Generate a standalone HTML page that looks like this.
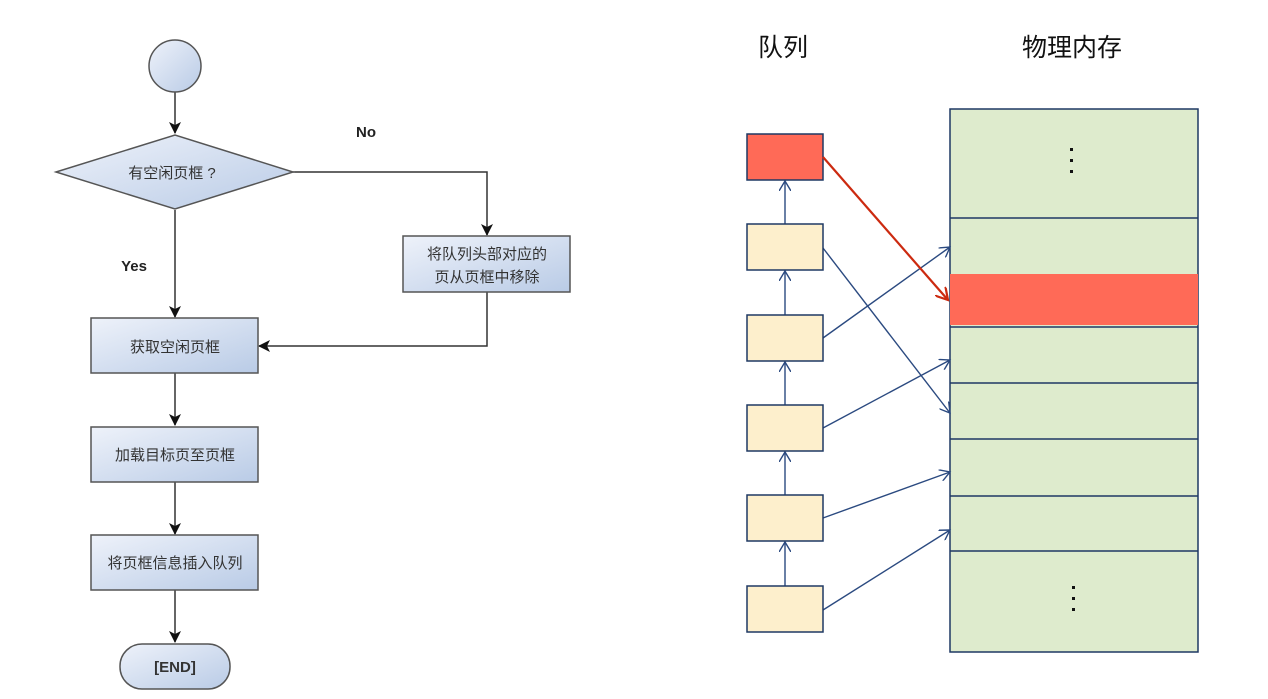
<!DOCTYPE html>
<html><head><meta charset="utf-8"><style>
html,body{margin:0;padding:0;background:#fff;}
svg{display:block;}
text{font-family:"Liberation Sans","Noto Sans CJK SC",sans-serif;}
</style></head><body>
<svg width="1268" height="699" viewBox="0 0 1268 699" xmlns="http://www.w3.org/2000/svg">
<defs>
<linearGradient id="g" x1="0" y1="0" x2="1" y2="1">
<stop offset="0" stop-color="#eef2fa"/><stop offset="1" stop-color="#b9cbe6"/></linearGradient>
<marker id="ab" markerWidth="12" markerHeight="12" refX="11" refY="6" orient="auto" markerUnits="userSpaceOnUse">
<path d="M0,0 L12,6 L0,12 L3,6 Z" fill="#111"/></marker>
<marker id="ao" markerWidth="12" markerHeight="12" refX="10" refY="6" orient="auto" markerUnits="userSpaceOnUse">
<path d="M0,0 L10,6 L0,12" fill="none" stroke="#2b4a80" stroke-width="1.4"/></marker>
<marker id="ar" markerWidth="14" markerHeight="14" refX="12" refY="7" orient="auto" markerUnits="userSpaceOnUse">
<path d="M0,0 L12,7 L0,14" fill="none" stroke="#cc2a10" stroke-width="2.2"/></marker>
</defs>
<g stroke="#333" stroke-width="1.5" fill="none">
<line x1="175" y1="92" x2="175" y2="133" marker-end="url(#ab)"/>
<line x1="175" y1="210" x2="175" y2="317" marker-end="url(#ab)"/>
<polyline points="293,172 487,172 487,235" marker-end="url(#ab)"/>
<polyline points="487,292 487,346 259,346" marker-end="url(#ab)"/>
<line x1="175" y1="373" x2="175" y2="425" marker-end="url(#ab)"/>
<line x1="175" y1="482" x2="175" y2="534" marker-end="url(#ab)"/>
<line x1="175" y1="590" x2="175" y2="642" marker-end="url(#ab)"/>
</g>
<g stroke="#555" stroke-width="1.5" fill="url(#g)">
<circle cx="175" cy="66" r="26"/>
<polygon points="56,172 175,135 293,172 175,209"/>
<rect x="403" y="236" width="167" height="56"/>
<rect x="91" y="318" width="167" height="55"/>
<rect x="91" y="427" width="167" height="55"/>
<rect x="91" y="535" width="167" height="55"/>
<rect x="120" y="644" width="110" height="45" rx="22"/>
</g>
<g font-size="15" fill="#333" text-anchor="middle">
<text x="172" y="178">有空闲页框 ?</text>
<text x="487" y="259">将队列头部对应的</text>
<text x="487" y="282">页从页框中移除</text>
<text x="175" y="352">获取空闲页框</text>
<text x="175" y="460">加载目标页至页框</text>
<text x="175" y="568">将页框信息插入队列</text>
<text x="175" y="672" font-weight="bold">[END]</text>
<text x="366" y="137" font-weight="bold" fill="#222">No</text>
<text x="134" y="271" font-weight="bold" fill="#222">Yes</text>
</g>
<g font-size="25" fill="#111" text-anchor="middle">
<text x="783" y="56">队列</text>
<text x="1072" y="56">物理内存</text>
</g>
<rect x="950" y="109" width="248" height="543" fill="#deebcd" stroke="#1f3864" stroke-width="1.5"/>
<rect x="950" y="274" width="248" height="51" fill="#ff6a57"/>
<g stroke="#1f3864" stroke-width="1.5">
<line x1="950" y1="218" x2="1198" y2="218"/>
<line x1="950" y1="327" x2="1198" y2="327"/>
<line x1="950" y1="383" x2="1198" y2="383"/>
<line x1="950" y1="439" x2="1198" y2="439"/>
<line x1="950" y1="496" x2="1198" y2="496"/>
<line x1="950" y1="551" x2="1198" y2="551"/>
</g>
<g fill="#111">
<rect x="1070" y="148" width="3" height="3"/><rect x="1070" y="159" width="3" height="3"/><rect x="1070" y="170" width="3" height="3"/>
<rect x="1072" y="586" width="3" height="3"/><rect x="1072" y="597" width="3" height="3"/><rect x="1072" y="608" width="3" height="3"/>
</g>
<g stroke="#2b4a80" stroke-width="1.4" fill="none">
<line x1="785" y1="224" x2="785" y2="181" marker-end="url(#ao)"/>
<line x1="785" y1="315" x2="785" y2="271" marker-end="url(#ao)"/>
<line x1="785" y1="405" x2="785" y2="362" marker-end="url(#ao)"/>
<line x1="785" y1="495" x2="785" y2="452" marker-end="url(#ao)"/>
<line x1="785" y1="586" x2="785" y2="542" marker-end="url(#ao)"/>
<line x1="823" y1="248" x2="950" y2="413" marker-end="url(#ao)"/>
<line x1="823" y1="338" x2="950" y2="247" marker-end="url(#ao)"/>
<line x1="823" y1="428" x2="950" y2="360" marker-end="url(#ao)"/>
<line x1="823" y1="518" x2="950" y2="472" marker-end="url(#ao)"/>
<line x1="823" y1="610" x2="950" y2="530" marker-end="url(#ao)"/>
</g>
<g stroke="#1f3864" stroke-width="1.5">
<rect x="747" y="134" width="76" height="46" fill="#ff6a57"/>
<rect x="747" y="224" width="76" height="46" fill="#fdefcc"/>
<rect x="747" y="315" width="76" height="46" fill="#fdefcc"/>
<rect x="747" y="405" width="76" height="46" fill="#fdefcc"/>
<rect x="747" y="495" width="76" height="46" fill="#fdefcc"/>
<rect x="747" y="586" width="76" height="46" fill="#fdefcc"/>
</g>
<line x1="823" y1="157" x2="948" y2="300" stroke="#cc2a10" stroke-width="2.2" marker-end="url(#ar)"/>
</svg>
</body></html>
